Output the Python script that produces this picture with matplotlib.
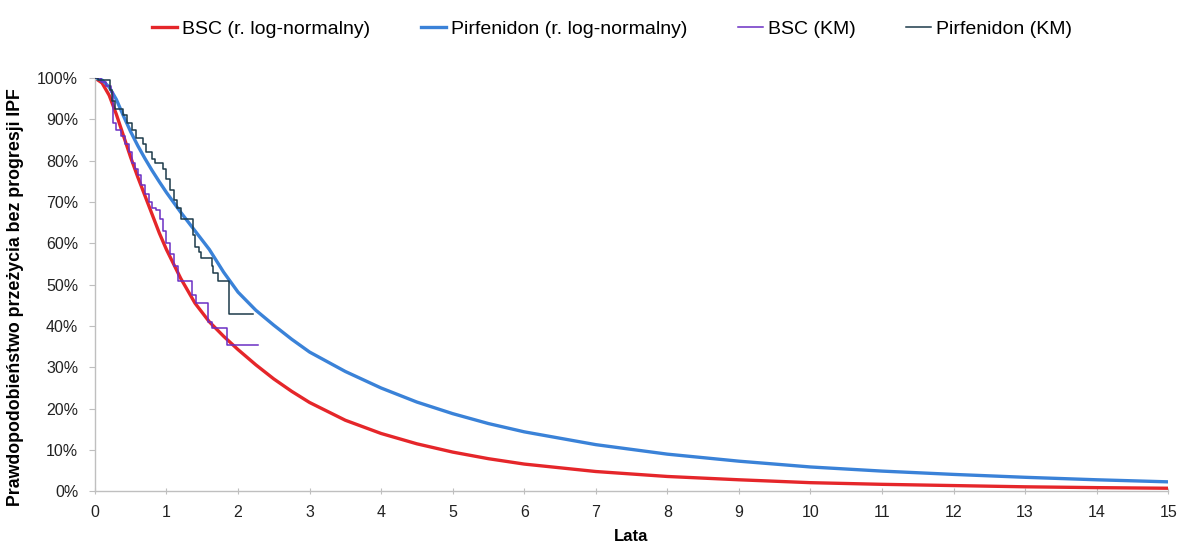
import matplotlib
matplotlib.use("Agg")
import matplotlib.pyplot as plt
from matplotlib.ticker import FuncFormatter

# ---- data ----
years = [0, 0.1, 0.2, 0.3, 0.4, 0.5, 0.6, 0.7, 0.8, 0.9, 1.0, 1.2, 1.4, 1.6, 1.8,
         2.0, 2.25, 2.5, 2.75, 3.0, 3.5, 4.0, 4.5, 5.0, 5.5, 6.0, 7.0, 8.0, 9.0,
         10.0, 11.0, 12.0, 13.0, 14.0, 15.0]
bsc_lognormal = [100, 98.8, 95.8, 91.2, 86, 80.8, 76, 71.5, 67, 62.5, 58.5, 51.5,
                 45.5, 41, 37.5, 34.3, 30.6, 27.2, 24.2, 21.5, 17.2, 14.0, 11.5,
                 9.5, 7.9, 6.6, 4.8, 3.6, 2.8, 2.1, 1.7, 1.4, 1.1, 0.9, 0.75]
pirf_lognormal = [100, 99.5, 97.8, 94.8, 90.8, 87, 83.6, 80.5, 77.6, 74.9, 72.3, 67.5,
                  63, 58.5, 53, 48.2, 43.8, 40.2, 36.8, 33.7, 29, 25, 21.6, 18.8,
                  16.4, 14.4, 11.3, 9.0, 7.3, 5.9, 4.9, 4.1, 3.4, 2.8, 2.3]

bsc_km_t = [0, 0.08, 0.15, 0.22, 0.26, 0.30, 0.37, 0.42, 0.47, 0.52, 0.56, 0.60,
            0.65, 0.70, 0.75, 0.80, 0.85, 0.91, 0.95, 1.00, 1.05, 1.10, 1.16,
            1.36, 1.42, 1.58, 1.63, 1.85, 2.28]
bsc_km_s = [100, 99, 98, 96.5, 89, 87.5, 86, 84, 82, 79.5, 78, 76.5, 74, 72, 70,
            68.5, 68, 66, 63, 60, 57.5, 54.5, 51, 47.5, 45.5, 41, 39.5, 35.5, 35.5]

pirf_km_t = [0, 0.05, 0.21, 0.24, 0.28, 0.39, 0.45, 0.52, 0.58, 0.67, 0.72, 0.80,
             0.84, 0.95, 1.00, 1.05, 1.10, 1.15, 1.21, 1.37, 1.40, 1.45, 1.49,
             1.63, 1.65, 1.72, 1.88, 2.21]
pirf_km_s = [100, 99.5, 97, 94.5, 92.5, 91, 89, 87.5, 85.5, 84, 82, 80.5, 79.5,
             78, 75.5, 73, 70.5, 68.5, 66, 62, 59, 58, 56.5, 54.5, 52.8, 51, 43, 43]

labels = ["BSC (r. log-normalny)", "Pirfenidon (r. log-normalny)",
          "BSC (KM)", "Pirfenidon (KM)"]
x_ticks = list(range(0, 16))
y_ticks = [0, 10, 20, 30, 40, 50, 60, 70, 80, 90, 100]

plt.rcParams['font.family'] = ['Liberation Sans', 'DejaVu Sans']

fig = plt.figure(figsize=(11.86, 5.49), dpi=100)
ax = fig.add_axes([0.080, 0.105, 0.905, 0.753])

red = "#e5262a"
blue = "#3a82d8"
purple = "#6b2fc4"
dark = "#1d3b4a"

l1, = ax.plot(years, bsc_lognormal, color=red, lw=2.4, label=labels[0], zorder=2)
l2, = ax.plot(years, pirf_lognormal, color=blue, lw=2.4, label=labels[1], zorder=2)
l3, = ax.step(bsc_km_t, bsc_km_s, where='post', color=purple, lw=1.1,
              label=labels[2], zorder=3)
l4, = ax.step(pirf_km_t, pirf_km_s, where='post', color=dark, lw=1.1,
              label=labels[3], zorder=3)

ax.set_xlim(0, 15)
ax.set_ylim(0, 100)
ax.set_xticks(x_ticks)
ax.set_yticks(y_ticks)
ax.yaxis.set_major_formatter(FuncFormatter(lambda v, p: f"{int(v)}%"))

for s in ['top', 'right']:
    ax.spines[s].set_visible(False)
for s in ['left', 'bottom']:
    ax.spines[s].set_color('#bfbfbf')
    ax.spines[s].set_linewidth(1.0)
ax.tick_params(axis='both', colors='#bfbfbf', labelcolor='#222222', labelsize=11.5,
               length=4)
ax.tick_params(axis='x', direction='inout', pad=8)
ax.tick_params(axis='y', direction='out', pad=8)

ax.set_xlabel("Lata", fontsize=12, fontweight='bold', labelpad=6)
ax.set_ylabel("Prawdopodobieństwo przeżycia bez progresji IPF", fontsize=12.8,
              fontweight='bold')
ax.yaxis.set_label_coords(-0.066, 0.47)

fig.legend(handles=[l1, l2, l3, l4], loc='upper center',
           bbox_to_anchor=(0.516, 0.995), ncol=4, frameon=False,
           fontsize=14, handlelength=1.3, handletextpad=0.25, columnspacing=2.6)

fig.savefig("out.png", dpi=100, facecolor='white')
